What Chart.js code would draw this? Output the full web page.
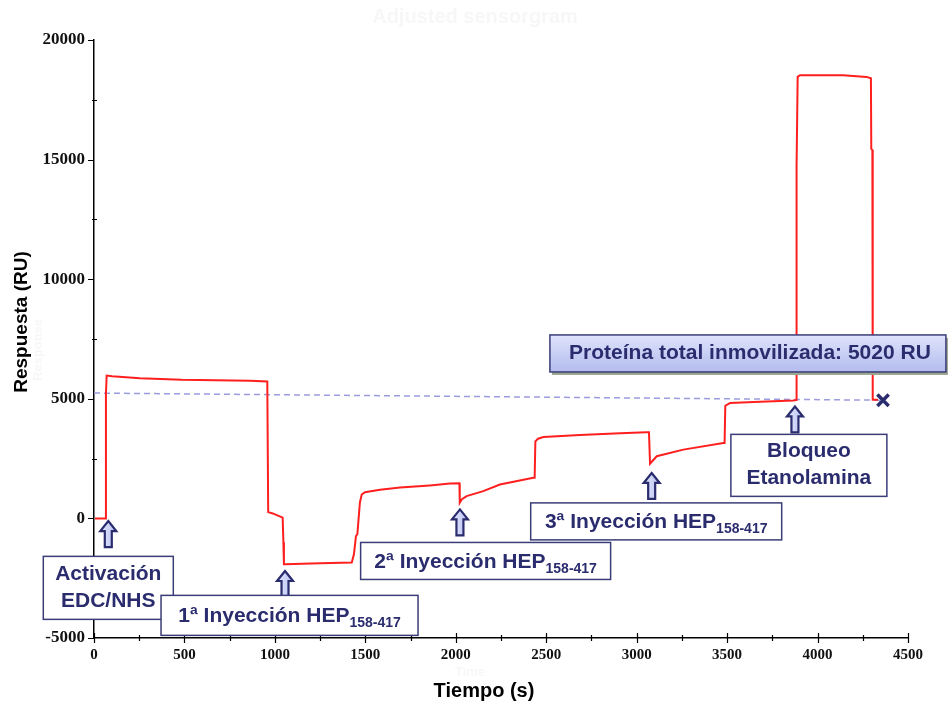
<!DOCTYPE html>
<html>
<head>
<meta charset="utf-8">
<title>Adjusted sensorgram</title>
<script src="https://cdn.jsdelivr.net/npm/chart.js@4.4.1/dist/chart.umd.min.js"></script>
<style>
    html, body { margin: 0; padding: 0; background: #fff; }
    #chart { display: block; }
</style>
</head>
<body>
<canvas id="chart" width="949" height="702"></canvas>
<script>
// ================= DATA =================
const tiempo = [5, 62, 66, 70, 100, 254, 485, 862, 958, 963, 988, 1043, 1047, 1050, 1056, 1250, 1425, 1437, 1448, 1456, 1470, 1480, 1498, 1581, 1692, 1857, 1968, 2020, 2022, 2034, 2060, 2152, 2244, 2429, 2436, 2440, 2455, 2484, 2687, 2908, 3055, 3068, 3074, 3111, 3258, 3479, 3486, 3490, 3516, 3682, 3866, 3882, 3884, 3890, 3903, 4142, 4271, 4295, 4297, 4303, 4305, 4334];
const respuesta = [0, 0, 5200, 5970, 5940, 5862, 5792, 5750, 5720, 263, 208, 29, -1000, -1917, -1917, -1880, -1846, -1500, -750, -650, 667, 1000, 1096, 1200, 1290, 1380, 1458, 1470, 654, 800, 930, 1140, 1417, 1696, 1700, 3220, 3330, 3400, 3490, 3560, 3597, 3597, 2290, 2600, 2875, 3150, 3150, 4710, 4820, 4880, 4930, 4950, 14700, 18458, 18530, 18530, 18458, 18400, 15450, 15400, 4958, 4960];

// baseline (dashed) and end marker
const baseT = [0, 4365];
const baseR = [5240, 4940];
const finT = [4362];
const finR = [4940];

const xTicks = [0, 500, 1000, 1500, 2000, 2500, 3000, 3500, 4000, 4500];
const yTicks = [-5000, 0, 5000, 10000, 15000, 20000];

// annotation arrows (tip in data coords)
const arrowT = [79, 1056, 2023, 3083, 3875];
const arrowR = [-110, -2200, 375, 1900, 4680];

// annotation boxes (center in data coords)
const boxT = [79, 1081, 2165, 3108, 3952];
const boxR = [-2904, -4054, -1779, -125, 2217];
const boxW = [130, 257, 250, 251, 156];
const boxH = [63, 40, 37, 37, 62];
const boxText = [
    ["Activación", "EDC/NHS"],
    ["1ª Inyección HEP"],
    ["2ª Inyección HEP"],
    ["3ª Inyección HEP"],
    ["Bloqueo", "Etanolamina"]
];
const boxSub = ["", "158-417", "158-417", "158-417", ""];

const totalText = "Proteína total inmovilizada: 5020 RU";
const totalT = 3615, totalR = 6896;

const NAVY = "#2a2c6e";

function pts(xs, ys) {
    return xs.map((x, i) => ({ x: x, y: ys[i] }));
}

// ================= PLUGIN: ticks, titles, annotations =================
const extras = {
    id: "extras",
    afterDraw(chart) {
        const ctx = chart.ctx;
        const xs = chart.scales.x, ys = chart.scales.y;
        const area = chart.chartArea;

        ctx.save();

        // faint labels from the original export
        ctx.fillStyle = "#f7f7f7";
        ctx.textAlign = "center";
        ctx.textBaseline = "middle";
        ctx.font = "bold 20px 'Liberation Sans', Arial, sans-serif";
        ctx.fillText("Adjusted sensorgram", 475, 17);
        ctx.font = "bold 13px 'Liberation Sans', Arial, sans-serif";
        ctx.fillText("Time", 470, 672);
        ctx.save();
        ctx.translate(38, 350);
        ctx.rotate(-Math.PI / 2);
        ctx.fillText("Response", 0, 0);
        ctx.restore();

        // x ticks (major + minor)
        ctx.strokeStyle = "#000";
        ctx.lineWidth = 1.2;
        ctx.beginPath();
        for (let v = 0; v <= 4500; v += 250) {
            const px = Math.round(xs.getPixelForValue(v)) + 0.5;
            const len = v % 500 === 0 ? 5 : 3;
            ctx.moveTo(px, area.bottom - len);
            ctx.lineTo(px, area.bottom + len);
        }
        // y ticks
        for (let v = -5000; v <= 20000; v += 2500) {
            const py = Math.round(ys.getPixelForValue(v)) + 0.5;
            if (v % 5000 === 0) {
                ctx.moveTo(area.left - 6, py);
                ctx.lineTo(area.left, py);
            } else {
                ctx.moveTo(area.left - 2, py);
                ctx.lineTo(area.left + 3, py);
            }
        }
        ctx.stroke();

        // axis titles
        ctx.fillStyle = "#000";
        ctx.font = "bold 19px 'Liberation Sans', Arial, sans-serif";
        ctx.save();
        ctx.translate(22, 322);
        ctx.rotate(-Math.PI / 2);
        ctx.fillText("Respuesta (RU)", 0, 0);
        ctx.restore();
        ctx.font = "bold 20px 'Liberation Sans', Arial, sans-serif";
        ctx.fillText("Tiempo (s)", 484, 691);

        // arrows
        arrowT.forEach((t, i) => {
            const cx = xs.getPixelForValue(t);
            const ty = ys.getPixelForValue(arrowR[i]);
            drawArrow(ctx, cx, ty);
        });

        // boxes
        boxT.forEach((t, i) => {
            const cx = xs.getPixelForValue(t);
            const cy = ys.getPixelForValue(boxR[i]);
            const w = boxW[i], h = boxH[i];
            ctx.fillStyle = "#fff";
            ctx.fillRect(cx - w / 2, cy - h / 2, w, h);
            ctx.strokeStyle = "#3b3d78";
            ctx.lineWidth = 1.5;
            ctx.strokeRect(cx - w / 2, cy - h / 2, w, h);

            ctx.fillStyle = NAVY;
            const lines = boxText[i];
            if (boxSub[i]) {
                ctx.font = "bold 21px 'Liberation Sans', Arial, sans-serif";
                const mainW = ctx.measureText(lines[0]).width;
                ctx.font = "bold 14px 'Liberation Sans', Arial, sans-serif";
                const subW = ctx.measureText(boxSub[i]).width;
                const x0 = cx - (mainW + subW) / 2;
                ctx.textAlign = "left";
                ctx.textBaseline = "alphabetic";
                ctx.font = "bold 21px 'Liberation Sans', Arial, sans-serif";
                ctx.fillText(lines[0], x0, cy + 7);
                ctx.font = "bold 14px 'Liberation Sans', Arial, sans-serif";
                ctx.fillText(boxSub[i], x0 + mainW, cy + 12);
            } else {
                ctx.textAlign = "center";
                ctx.textBaseline = "middle";
                ctx.font = "bold 21px 'Liberation Sans', Arial, sans-serif";
                ctx.fillText(lines[0], cx, cy - 14);
                ctx.fillText(lines[1], cx, cy + 13);
            }
        });

        // total protein banner
        const bx = xs.getPixelForValue(totalT), by = ys.getPixelForValue(totalR);
        const bw = 396, bh = 37;
        const left = bx - bw / 2, top = by - bh / 2;
        ctx.fillStyle = "#9aa590";
        ctx.fillRect(left + 2, top + 3, bw, bh);
        const g = ctx.createLinearGradient(0, top, 0, top + bh);
        g.addColorStop(0, "#dfe3fb");
        g.addColorStop(1, "#b3bcee");
        ctx.fillStyle = g;
        ctx.fillRect(left, top, bw, bh);
        ctx.strokeStyle = "#3b3d78";
        ctx.lineWidth = 1.5;
        ctx.strokeRect(left, top, bw, bh);
        ctx.fillStyle = NAVY;
        ctx.textAlign = "center";
        ctx.textBaseline = "middle";
        ctx.font = "bold 21px 'Liberation Sans', Arial, sans-serif";
        ctx.fillText(totalText, bx + 2, by);

        ctx.restore();
    }
};

function drawArrow(ctx, cx, ty) {
    const headW = 16, headH = 10, shaftW = 7, total = 26;
    ctx.beginPath();
    ctx.moveTo(cx, ty);
    ctx.lineTo(cx + headW / 2, ty + headH);
    ctx.lineTo(cx + shaftW / 2, ty + headH);
    ctx.lineTo(cx + shaftW / 2, ty + total);
    ctx.lineTo(cx - shaftW / 2, ty + total);
    ctx.lineTo(cx - shaftW / 2, ty + headH);
    ctx.lineTo(cx - headW / 2, ty + headH);
    ctx.closePath();
    const g = ctx.createLinearGradient(cx - headW / 2, 0, cx + headW / 2, 0);
    g.addColorStop(0, "#e4e8fd");
    g.addColorStop(1, "#b8c2f2");
    ctx.fillStyle = g;
    ctx.fill();
    ctx.strokeStyle = NAVY;
    ctx.lineWidth = 2.2;
    ctx.lineJoin = "miter";
    ctx.stroke();
}

// ================= CHART =================
new Chart(document.getElementById("chart"), {
    type: "line",
    data: {
        datasets: [
            {
                label: "Sensorgrama",
                data: pts(tiempo, respuesta),
                borderColor: "#ff1f1f",
                borderWidth: 2,
                pointRadius: 0,
                tension: 0,
                fill: false
            },
            {
                label: "Línea base",
                data: pts(baseT, baseR),
                borderColor: "#9c9ce0",
                borderWidth: 1.5,
                borderDash: [6, 4],
                pointRadius: 0,
                fill: false
            },
            {
                label: "Fin",
                data: pts(finT, finR),
                showLine: false,
                pointStyle: "crossRot",
                pointRadius: 8,
                pointBorderWidth: 3.5,
                pointBorderColor: NAVY,
                pointBackgroundColor: NAVY
            }
        ]
    },
    options: {
        responsive: false,
        devicePixelRatio: 1,
        animation: false,
        layout: { padding: { top: 40, right: 41, left: 0, bottom: 0 } },
        plugins: {
            legend: { display: false },
            tooltip: { enabled: false }
        },
        scales: {
            x: {
                type: "linear",
                min: 0,
                max: 4500,
                afterFit: s => { s.height = 64; },
                afterBuildTicks: s => { s.ticks = xTicks.map(v => ({ value: v })); },
                grid: { display: false, drawTicks: false },
                border: { display: true, color: "#000", width: 1.5 },
                ticks: {
                    padding: 8,
                    color: "#111",
                    callback: v => String(v),
                    font: { family: "'Liberation Serif', 'Times New Roman', serif", weight: "bold", size: 15 }
                }
            },
            y: {
                type: "linear",
                min: -5000,
                max: 20000,
                afterFit: s => { s.width = 94; },
                afterBuildTicks: s => { s.ticks = yTicks.map(v => ({ value: v })); },
                grid: { display: false, drawTicks: false },
                border: { display: true, color: "#000", width: 1.5 },
                ticks: {
                    padding: 9,
                    color: "#111",
                    callback: v => String(v),
                    font: { family: "'Liberation Serif', 'Times New Roman', serif", weight: "bold", size: 17 }
                }
            }
        }
    },
    plugins: [extras]
});
</script>
</body>
</html>
